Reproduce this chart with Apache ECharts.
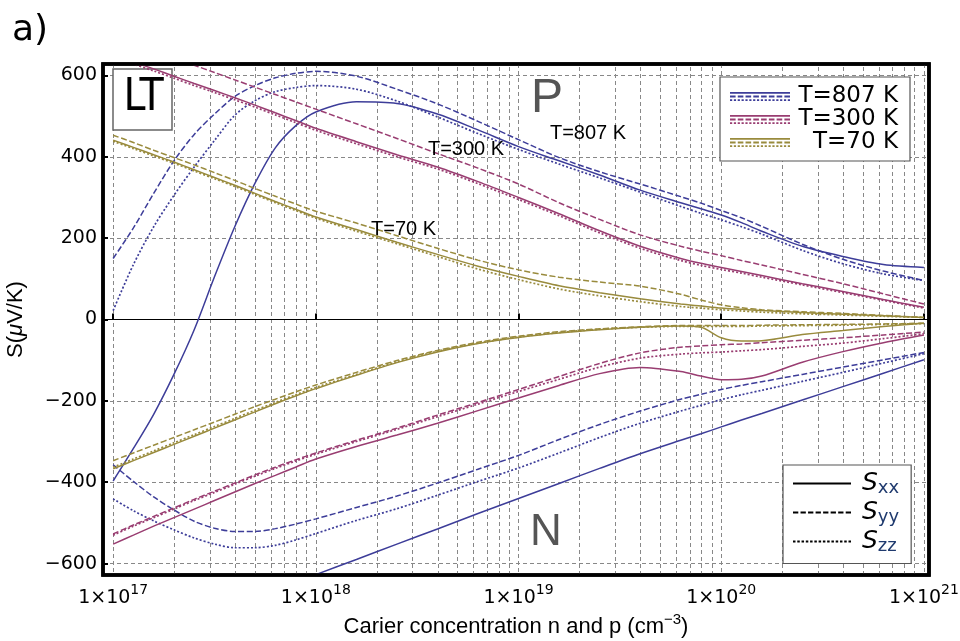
<!DOCTYPE html>
<html>
<head>
<meta charset="utf-8">
<script src="https://cdn.jsdelivr.net/npm/echarts@6/dist/echarts.min.js"></script>
<style>
html,body{margin:0;padding:0;background:#fff;}
#chart{width:960px;height:641px;}
</style>
</head>
<body>
<div id="chart"></div>
<script>
// carrier concentration, as log10(n) in cm^-3
const logN = [17,17.1,17.2,17.3,17.4,17.5,17.6,17.7,17.8,17.9,18,18.2,18.4,18.6,18.8,19,19.2,19.4,19.6,19.8,19.9,20,20.1,20.2,20.4,20.6,20.8,21];

// T = 807 K
const blue_xx_P = [-397,-317,-233,-135,-25,105,228,335,422,476,510,535,531,505,466,425,390,355,318,287,272,257,238,217,180,155,135,128];
const blue_yy_P = [150,225,310,390,455,505,548,575,594,605,610,598,566,530,487,442,398,363,333,302,286,268,250,229,185,148,119,96];
const blue_zz_P = [22,135,228,305,375,440,502,538,560,570,575,566,537,498,457,418,382,348,313,278,261,245,228,210,170,137,112,96];
const blue_xx_N = [null,null,null,null,null,null,null,null,null,-646,-627,-590,-552,-515,-477,-440,-403,-366,-330,-297,-281,-264,-247,-231,-198,-165,-132,-99];
const blue_yy_N = [-357,-398,-436,-468,-496,-513,-521,-521,-514,-503,-490,-462,-434,-402,-368,-334,-295,-258,-225,-196,-184,-172,-162,-153,-135,-117,-99,-81];
const blue_zz_N = [-441,-470,-495,-517,-537,-552,-561,-561,-555,-542,-526,-494,-465,-432,-398,-365,-328,-290,-255,-225,-211,-197,-185,-174,-152,-130,-107,-84];

// T = 300 K
const mag_xx_P = [652,633,616,598,580,563,545,527,508,489,470,437,405,375,339,300,260,218,180,150,138,128,118,108,88,69,49,30];
const mag_yy_P = [697,679,661,643,625,607,589,571,553,535,517,481,445,408,372,333,287,246,208,180,168,157,145,134,111,88,63,38];
const mag_zz_P = [647,628,611,593,575,558,540,522,503,484,465,432,400,370,334,295,255,213,175,145,133,123,114,104,85,66,47,28];
const mag_xx_N = [-552,-530,-508,-487,-466,-445,-424,-403,-383,-363,-343,-312,-284,-255,-224,-193,-162,-133,-118,-128,-139,-148,-147,-139,-105,-79,-57,-38];
const mag_yy_N = [-527,-505,-484,-463,-442,-422,-402,-382,-363,-345,-328,-297,-267,-235,-204,-172,-140,-108,-82,-68,-65,-62,-60,-57,-51,-45,-38,-31];
const mag_zz_N = [-530,-508,-487,-466,-445,-425,-405,-385,-366,-348,-331,-300,-270,-239,-208,-177,-147,-117,-95,-85,-82,-80,-77,-74,-66,-58,-47,-35];

// T = 70 K
const olv_xx_P = [441,423,405,387,368,349,330,310,290,271,252,221,190,160,131,106,83,66,51,38,33,28,25,22,17,13,9,5];
const olv_yy_P = [453,435,416,398,380,361,342,322,303,284,266,237,206,175,146,122,104,92,82,62,48,36,29,24,19,15,10,5];
const olv_zz_P = [438,420,402,384,365,346,327,307,287,268,249,217,186,155,124,98,75,58,44,32,28,24,21,18,14,11,8,5];
const olv_xx_N = [-367,-347,-327,-307,-287,-267,-247,-227,-207,-188,-170,-137,-106,-80,-59,-44,-33,-25,-19,-16,-19,-45,-53,-52,-37,-27,-17,-9];
const olv_yy_N = [-347,-328,-309,-290,-271,-252,-233,-214,-196,-178,-161,-130,-101,-76,-56,-41,-30,-23,-18,-15,-15,-15,-15,-14,-13,-12,-11,-9];
const olv_zz_N = [-363,-343,-323,-303,-283,-263,-243,-223,-204,-185,-167,-135,-104,-78,-58,-43,-32,-24,-19,-17,-17,-17,-17,-16,-15,-14,-12,-10];

const tempNames = ['T=807 K','T=300 K','T=70 K'];
const compNames = ['Sxx','Syy','Szz'];
const yTicks = [-600,-400,-200,0,200,400,600];
const xDecades = [17,18,19,20,21];

const COLORS = {b:'#3d3d99', m:'#993d71', o:'#998b3d'};
const DASH = {xx:'solid', yy:[6,2.5], zz:[2,2]};

function toData(vals){
  const out = [];
  for (let i=0;i<logN.length;i++){ if (vals[i]!==null) out.push([Math.pow(10,logN[i]), vals[i]]); }
  return out;
}
function mk(name, color, comp, vals){
  return {
    name: name, type:'line', data: toData(vals), smooth:0.3, symbol:'none', silent:true,
    clip:true, z:2,
    lineStyle:{color:color, width: comp==='zz'?1.7:1.5, type: DASH[comp]},
    itemStyle:{color:color},
    emphasis:{disabled:true}
  };
}

// minor grid positions (2..9 x 10^k)
const minorLines = [];
for (let k=17;k<21;k++){ for (let m=2;m<=9;m++){ minorLines.push({xAxis: m*Math.pow(10,k)}); } }

function segPath(y0,y1,w,n,d){
  const g = (w - n*d)/(n-1); let s='';
  for (let i=0;i<n;i++){ const x=i*(d+g); s+='M'+x.toFixed(2)+','+y0+'H'+(x+d).toFixed(2)+'V'+y1+'H'+x.toFixed(2)+'Z'; }
  return s;
}
const icon3 = 'path://M0,0H60V1.7H0Z' + segPath(3.6,5.4,60,8,5.6) + segPath(7.3,9,60,16,2.2);
const iconSolid = 'path://M0,0H58V2H0Z';
const iconDash = 'path://' + segPath(0,2,58,8,5.3);
const iconDot = 'path://' + segPath(0,2,58,14,2.5);

const series = [
  mk('T=807 K', COLORS.b, 'xx', blue_xx_P),
  mk('b_yy_P', COLORS.b, 'yy', blue_yy_P),
  mk('b_zz_P', COLORS.b, 'zz', blue_zz_P),
  mk('b_xx_N', COLORS.b, 'xx', blue_xx_N),
  mk('b_yy_N', COLORS.b, 'yy', blue_yy_N),
  mk('b_zz_N', COLORS.b, 'zz', blue_zz_N),
  mk('T=300 K', COLORS.m, 'xx', mag_xx_P),
  mk('m_yy_P', COLORS.m, 'yy', mag_yy_P),
  mk('m_zz_P', COLORS.m, 'zz', mag_zz_P),
  mk('m_xx_N', COLORS.m, 'xx', mag_xx_N),
  mk('m_yy_N', COLORS.m, 'yy', mag_yy_N),
  mk('m_zz_N', COLORS.m, 'zz', mag_zz_N),
  mk('T=70 K', COLORS.o, 'xx', olv_xx_P),
  mk('o_yy_P', COLORS.o, 'yy', olv_yy_P),
  mk('o_zz_P', COLORS.o, 'zz', olv_zz_P),
  mk('o_xx_N', COLORS.o, 'xx', olv_xx_N),
  mk('o_yy_N', COLORS.o, 'yy', olv_yy_N),
  mk('o_zz_N', COLORS.o, 'zz', olv_zz_N),
  {name:'Sxx', type:'line', data:[], symbol:'none', itemStyle:{color:'#000'}, lineStyle:{color:'#000'},
   markLine:{silent:true, symbol:['none','none'], label:{show:false}, z:1, animation:false,
     lineStyle:{color:'#888', type:[4,3], width:1},
     data: minorLines.concat([{yAxis:0, lineStyle:{color:'#000', type:'solid', width:1}}])}},
  {name:'Syy', type:'line', data:[], symbol:'none', itemStyle:{color:'#000'}},
  {name:'Szz', type:'line', data:[], symbol:'none', itemStyle:{color:'#000'}}
];

const chart = echarts.init(document.getElementById('chart'), null, {renderer:'canvas'});
const SANS = 'Liberation Sans';
const DJ = 'DejaVu Sans';
const G = {left:103, right:31, top:64, bottom:66};

chart.setOption({
  animation:false,
  backgroundColor:'#fff',
  textStyle:{fontFamily:DJ},
  grid:{left:G.left, right:G.right, top:G.top, bottom:G.bottom, show:true, borderColor:'#000', borderWidth:3.5,
        backgroundColor:'transparent', containLabel:false, outerBoundsMode:'none'},
  xAxis:{
    type:'log', logBase:10, min:Math.pow(10,16.95), max:Math.pow(10,21.025),
    axisLine:{show:false},
    axisTick:{show:true, inside:true, length:6, lineStyle:{color:'#000', width:2}},
    splitLine:{show:true, showMinLine:false, showMaxLine:false, lineStyle:{color:'#888', type:[4,3], width:1}},
    axisLabel:{
      margin:8, color:'#000',
      formatter:function(v){
        const e = Math.log10(v); const r = Math.round(e);
        if (Math.abs(e-r)>1e-6 || xDecades.indexOf(r)<0) return '';
        return '{b|1×10}{s|'+r+'}';
      },
      rich:{
        b:{fontFamily:DJ, fontSize:19, lineHeight:30, color:'#000'},
        s:{fontFamily:DJ, fontSize:14, verticalAlign:'top', color:'#000'}
      }
    },
    name:'Carier concentration n and p (cm{sup|−3})',
    nameLocation:'middle', nameGap:37,
    nameTextStyle:{fontFamily:SANS, fontSize:22, color:'#000', lineHeight:30,
      rich:{sup:{fontFamily:SANS, fontSize:15, verticalAlign:'top', color:'#000'}}}
  },
  yAxis:{
    type:'value', min:-628, max:628, splitNumber:6,
    axisLine:{show:false},
    axisTick:{show:true, inside:true, length:5, lineStyle:{color:'#000', width:2}},
    splitLine:{show:true, showMinLine:false, showMaxLine:false, lineStyle:{color:'#888', type:[4,3], width:1}},
    axisLabel:{
      margin:6, color:'#000', fontFamily:DJ, fontSize:19,
      formatter:function(v){
        if (yTicks.indexOf(v)<0) return '';
        return v<0 ? '−'+Math.abs(v) : String(v);
      }
    },
    name:'S({i|μ}V/K)', nameLocation:'middle', nameRotate:90, nameGap:76,
    nameTextStyle:{fontFamily:SANS, fontSize:22, color:'#000',
      rich:{i:{fontFamily:SANS, fontSize:22, fontStyle:'italic', color:'#000'}}}
  },
  legend:[
    {
      data:tempNames, orient:'vertical', left:720, top:77,
      padding:[8,12,7,10], itemGap:0, itemWidth:60, itemHeight:9,
      icon:icon3, selectedMode:false,
      backgroundColor:'#fff', borderColor:'#555', borderWidth:1.2,
      itemStyle:{borderWidth:0},
      formatter:function(n){ return '{a|'+n+'}'; },
      textStyle:{fontFamily:DJ, fontSize:23, color:'#000',
        rich:{a:{width:103, align:'right', fontFamily:DJ, fontSize:23, lineHeight:22, color:'#000'}}}
    },
    {
      data:[{name:'Sxx', icon:iconSolid},{name:'Syy', icon:iconDash},{name:'Szz', icon:iconDot}],
      orient:'vertical', left:783, top:465,
      padding:[6,12,8,10], itemGap:2.5, itemWidth:58, itemHeight:2, selectedMode:false,
      backgroundColor:'#fff', borderColor:'#555', borderWidth:1.2,
      itemStyle:{borderWidth:0},
      formatter:function(n){ return '{s|S}{sub|'+n.slice(1)+'}'; },
      textStyle:{fontFamily:DJ, fontSize:25, color:'#000',
        rich:{
          s:{fontFamily:DJ, fontSize:25, fontStyle:'italic', lineHeight:28, padding:[0,0,0,6], color:'#000'},
          sub:{fontFamily:DJ, fontSize:18, verticalAlign:'bottom', color:'#1f3a6e'}
        }}
    }
  ],
  graphic:[
    {type:'text', z:10, style:{x:12, y:31, text:'a)', font:'36px "DejaVu Sans"', fill:'#000', align:'left', verticalAlign:'middle', textAlign:'left', textVerticalAlign:'middle'}},
    {type:'rect', z:1, shape:{x:113, y:69, width:59, height:61}, style:{fill:'#fff', stroke:'#666', lineWidth:1.5}},
    {type:'text', z:10, style:{x:143.5, y:99, text:'LT', font:'44px "Liberation Sans Narrow", "DejaVu Sans Condensed", sans-serif', fill:'#000', align:'center', verticalAlign:'middle', textAlign:'center', textVerticalAlign:'middle'}},
    {type:'text', z:10, style:{x:547, y:98.5, text:'P', font:'48px "Liberation Sans"', fill:'#555', align:'center', verticalAlign:'middle', textAlign:'center', textVerticalAlign:'middle'}},
    {type:'text', z:10, style:{x:546, y:532.5, text:'N', font:'44px "Liberation Sans"', fill:'#555', align:'center', verticalAlign:'middle', textAlign:'center', textVerticalAlign:'middle'}},
    {type:'text', z:10, style:{x:588, y:133, text:'T=807 K', font:'20px "Liberation Sans"', fill:'#000', align:'center', verticalAlign:'middle', textAlign:'center', textVerticalAlign:'middle'}},
    {type:'text', z:10, style:{x:466, y:149.5, text:'T=300 K', font:'20px "Liberation Sans"', fill:'#000', align:'center', verticalAlign:'middle', textAlign:'center', textVerticalAlign:'middle'}},
    {type:'text', z:10, style:{x:403.5, y:229.5, text:'T=70 K', font:'20px "Liberation Sans"', fill:'#000', align:'center', verticalAlign:'middle', textAlign:'center', textVerticalAlign:'middle'}},
    {type:'rect', z:50, silent:true, shape:{x:G.left, y:G.top, width:960-G.left-G.right, height:641-G.top-G.bottom}, style:{fill:'none', stroke:'#000', lineWidth:3.5}}
  ],
  series:series
});
</script>
</body>
</html>
